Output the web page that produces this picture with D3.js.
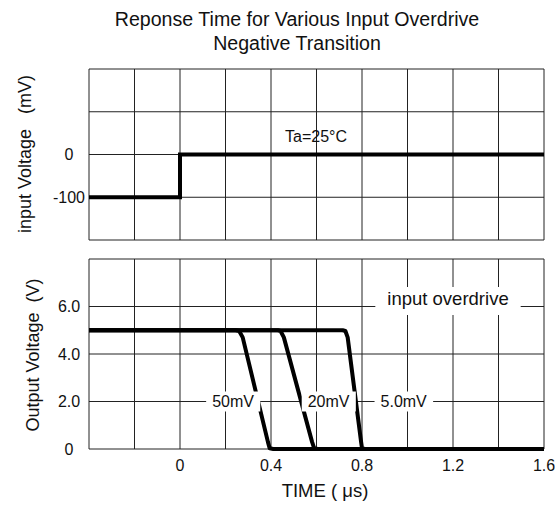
<!DOCTYPE html>
<html>
<head>
<meta charset="utf-8">
<script src="https://cdn.jsdelivr.net/npm/d3@7"></script>
<style>
  body { margin: 0; background: #fff; }
  text { font-family: "Liberation Sans", Arial, sans-serif; fill: #111; }
</style>
</head>
<body>
<div id="chart"></div>
<script>
// time axis (us), shared by both panels
let timeTicks = [0, 0.4, 0.8, 1.2, 1.6];
let timeGrid = [-0.4, -0.2, 0, 0.2, 0.4, 0.6, 0.8, 1.0, 1.2, 1.4, 1.6];

// top panel: input step (mV)
let inGrid = [-200, -100, 0, 100, 200];
let inTicks = [0, -100];
let inputStep = [[-0.4, -100], [0, -100], [0, 0], [1.6, 0]];

// bottom panel: output (V) for each overdrive
let outGrid = [0, 2, 4, 6, 8];
let outTicks = [0, 2, 4, 6];
let overdrives = ["50mV", "20mV", "5.0mV"];
let out50 = [[-0.4, 5], [0.245, 5], [0.26, 4.97], [0.2756, 4.7], [0.3864, 0.3], [0.394, 0.03], [0.41, 0], [1.6, 0]];
let out20 = [[-0.4, 5], [0.43, 5], [0.442, 4.97], [0.4565, 4.7], [0.5805, 0.3], [0.59, 0.03], [0.605, 0], [1.6, 0]];
let out5 = [[-0.4, 5], [0.715, 5], [0.727, 4.97], [0.737, 4.7], [0.796, 0.3], [0.8, 0.03], [0.812, 0], [1.6, 0]];
let labelPos = [[0.22, 2], [0.64, 2], [0.97, 2]];

let dims = { width: 555, height: 506, left: 89, right: 544 };

const svg = d3.select("#chart").append("svg")
  .attr("width", dims.width).attr("height", dims.height);

const x = d3.scaleLinear().domain([-0.4, 1.6]).range([dims.left, dims.right]);
const yIn = d3.scaleLinear().domain([-200, 200]).range([240, 69]);
const yOut = d3.scaleLinear().domain([0, 8]).range([449, 259]);

function grid(y, yGrid) {
  const g = svg.append("g");
  g.selectAll(".vg").data(timeGrid).join("line")
    .attr("x1", d => x(d)).attr("x2", d => x(d))
    .attr("y1", y.range()[0]).attr("y2", y.range()[1])
    .attr("stroke", "#222").attr("stroke-width", 1);
  g.selectAll(".hg").data(yGrid).join("line")
    .attr("x1", dims.left).attr("x2", dims.right)
    .attr("y1", d => y(d)).attr("y2", d => y(d))
    .attr("stroke", "#222").attr("stroke-width", 1);
}
grid(yIn, inGrid);
grid(yOut, outGrid);

// title
svg.append("text").attr("x", 297).attr("y", 26).attr("text-anchor", "middle")
  .style("font-size", "19.6px").text("Reponse Time for Various Input Overdrive");
svg.append("text").attr("x", 297).attr("y", 50).attr("text-anchor", "middle")
  .style("font-size", "19.6px").text("Negative Transition");

// y tick labels
svg.selectAll(".tin").data(inTicks).join("text")
  .attr("x", 69).attr("y", d => yIn(d)).attr("dy", "0.36em")
  .attr("text-anchor", "middle").style("font-size", "16px")
  .text(d => d);
svg.selectAll(".tout").data(outTicks).join("text")
  .attr("x", 69).attr("y", d => yOut(d)).attr("dy", "0.36em")
  .attr("text-anchor", "middle").style("font-size", "16px")
  .text(d => d == 0 ? "0" : d3.format(".1f")(d));

// x tick labels
svg.selectAll(".tx").data(timeTicks).join("text")
  .attr("x", d => x(d)).attr("y", 471)
  .attr("text-anchor", "middle").style("font-size", "16px")
  .text(d => d == 0 ? "0" : d3.format(".1f")(d));

// axis titles
svg.append("text").attr("x", 325).attr("y", 497).attr("text-anchor", "middle")
  .style("font-size", "18.5px").text("TIME ( \u03bcs)");
svg.append("text").attr("transform", "translate(31,154) rotate(-90)")
  .attr("text-anchor", "middle").style("font-size", "18px")
  .style("white-space", "pre").text("input Voltage   (mV)");
svg.append("text").attr("transform", "translate(39,355) rotate(-90)")
  .attr("text-anchor", "middle").style("font-size", "18px")
  .style("white-space", "pre").text("Output Voltage  (V)");

// curves
const lineIn = d3.line().x(d => x(d[0])).y(d => yIn(d[1]));
svg.append("path").datum(inputStep).attr("d", lineIn)
  .attr("fill", "none").attr("stroke", "#000").attr("stroke-width", 4);

const lineOut = d3.line().x(d => x(d[0])).y(d => yOut(d[1]));
svg.selectAll(".out").data([out50, out20, out5]).join("path")
  .attr("d", lineOut)
  .attr("fill", "none").attr("stroke", "#000").attr("stroke-width", 4)
  .attr("stroke-linejoin", "round");

svg.append("text").attr("x", 316).attr("y", 142).attr("text-anchor", "middle")
  .style("font-size", "16px").text("Ta=25\u00b0C");

// overdrive labels with white boxes
const lab = svg.append("g");
overdrives.forEach((name, i) => {
  const cx = x(labelPos[i][0]) + 3, cy = yOut(labelPos[i][1]);
  const t = lab.append("text").attr("x", cx).attr("y", cy).attr("dy", "0.36em")
    .attr("text-anchor", "middle").style("font-size", "16px").text(name);
  const bb = t.node().getBBox();
  lab.insert("rect", "text").attr("x", bb.x - 6).attr("y", cy - 10)
    .attr("width", bb.width + 12).attr("height", 20).attr("fill", "#fff");
});
const od = lab.append("text").attr("x", 448).attr("y", yOut(6)).attr("dy", "-2")
  .attr("text-anchor", "middle").style("font-size", "18.5px").text("input overdrive");
const ob = od.node().getBBox();
lab.insert("rect", "text").attr("x", ob.x - 12).attr("y", 287)
  .attr("width", ob.width + 24).attr("height", 28).attr("fill", "#fff");
</script>
</body>
</html>
